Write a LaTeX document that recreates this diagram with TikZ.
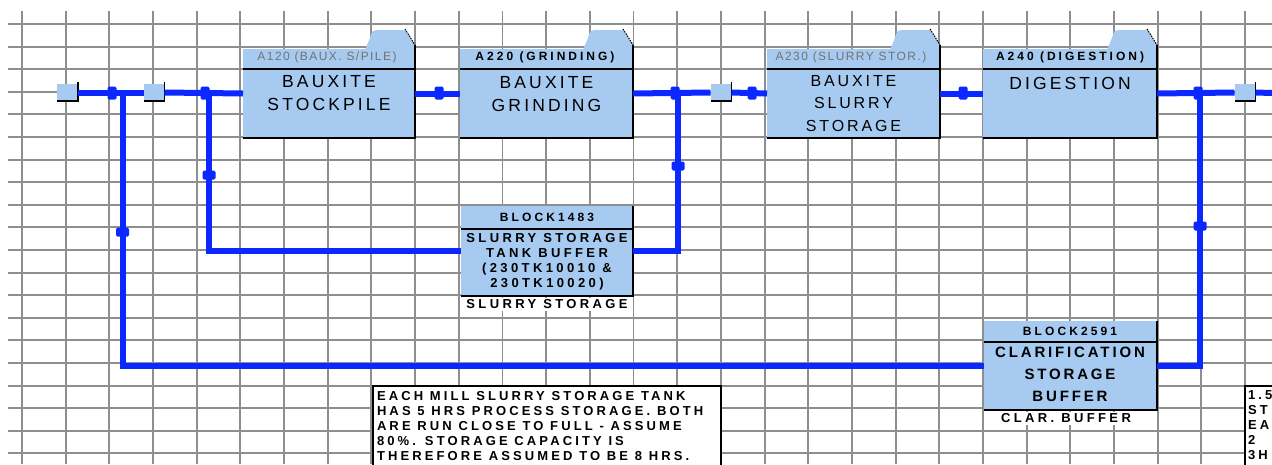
\documentclass[tikz,border=0pt]{standalone}
\usepackage{fontspec}
\setmainfont{Liberation Sans}
\newfontfamily\fBody[LetterSpace=18]{Liberation Sans}
\newfontfamily\fHdr[LetterSpace=12]{Liberation Sans}
\newfontfamily\fHdrB[LetterSpace=25]{Liberation Sans}
\newfontfamily\fBlk[LetterSpace=26]{Liberation Sans}
\newfontfamily\fClar[LetterSpace=19]{Liberation Sans}
\newfontfamily\fNote[LetterSpace=24]{Liberation Sans}
\definecolor{boxblue}{HTML}{A6CAF0}
\definecolor{flowblue}{HTML}{0A28FF}
\definecolor{gridgray}{HTML}{8E8E8E}
\tikzset{
 hmark/.pic={\fill[flowblue,rounded corners=1.5pt] (-4.5,-6.5) rectangle (4.5,6.5);},
 vmark/.pic={\fill[flowblue,rounded corners=1.5pt] (-6.5,-4.5) rectangle (6.5,4.5);}
}
\begin{document}
\begin{tikzpicture}[x=1pt,y=-1pt,
 gridline/.style={draw=gridgray,line width=1.9pt},
 flow/.style={draw=flowblue,line width=6pt,line join=miter},
 edge/.style={draw=black,line width=1.3pt},
 fillbox/.style={fill=boxblue,draw=none,inner sep=0pt,outer sep=0pt,anchor=north west},
 sqbox/.style={fill=boxblue,draw=none,inner sep=0pt,outer sep=0pt,minimum width=21pt,minimum height=17pt},
 txt/.style={inner sep=0pt,outer sep=0pt,align=center},
 hdrlbl/.style={txt,font=\fHdr\fontsize{12}{14}\selectfont,text=black!55},
 hdrbold/.style={txt,font=\fHdrB\bfseries\fontsize{12}{14}\selectfont},
 bodytxt/.style={txt,anchor=north,font=\fBody\fontsize{17.5}{23.5}\selectfont},
 slurrytxt/.style={txt,anchor=north,font=\fBody\fontsize{16}{22.5}\selectfont},
 blkhdr/.style={txt,font=\fBlk\bfseries\fontsize{12}{14}\selectfont},
 blkbody/.style={txt,anchor=north,font=\fBlk\bfseries\fontsize{13}{15}\selectfont},
 clarbody/.style={txt,anchor=north,font=\fClar\bfseries\fontsize{15}{22}\selectfont},
 blklbl/.style={txt,fill=white,inner xsep=1pt,inner ysep=2pt,font=\fBlk\bfseries\fontsize{13}{15}\selectfont},
 notebox/.style={draw=black,line width=1.2pt,fill=white,inner sep=0pt,outer sep=0pt,anchor=north west},
 notetxt/.style={inner sep=0pt,outer sep=0pt,align=left,anchor=north west,font=\fNote\bfseries\fontsize{13}{15}\selectfont}
]
\useasboundingbox (0,0) rectangle (1272,464);
\fill[white] (0,0) rectangle (1272,464);
% grid
\foreach \i in {0,...,28} \draw[gridline] ({22+43.68*\i},11) -- ({22+43.68*\i},464);
\foreach \j in {0,...,19} \draw[gridline] (8,{24+22.6*\j}) -- (1272,{24+22.6*\j});

% process boxes (top row)
\foreach \nm/\l/\r/\w in {a120/243/415/172, a220/460/633/173, a230/767/940/173, a240/983/1157/174} {
  \fill[boxblue] (\r-50,50) -- (\r-45,38) .. controls (\r-43,31) .. (\r-38,30) -- (\r-10,30) -- (\r,45) -- (\r,50) -- cycle;
  \node[fillbox,minimum width=\w pt,minimum height=89pt] (\nm) at (\l,49) {};
  \draw[black,line width=1pt,dash pattern=on 1.6pt off 1pt] (\r-10,29) -- (\r,45);
  \draw[edge] (\l,69) -- (\r,69);
  \draw[edge] (\r,45) -- (\r,138) -- (\l,138);
}
% buffer blocks
\node[fillbox,minimum width=172pt,minimum height=90pt] (b1483) at (461,206) {};
\draw[edge] (461,229) -- (633,229);
\draw[edge] (633,206) -- (633,296) -- (461,296);
\node[fillbox,minimum width=173pt,minimum height=89pt] (b2591) at (984,321) {};
\draw[edge] (984,342) -- (1157,342);
\draw[edge] (1157,321) -- (1157,410) -- (984,410);

% small connector squares
\node[sqbox] (sq1) at (67.5,92.5) {};
\node[sqbox] (sq2) at (154,92.5) {};
\node[sqbox] (sq3) at (721,92.5) {};
\node[sqbox] (sq4) at (1245,92.5) {};
\foreach \s in {sq1,sq2,sq3,sq4} \draw[edge] ([yshift=2pt]\s.north east) -- (\s.south east) -- (\s.south west);

% junctions
\coordinate (j1) at (122.5,93);
\coordinate (j2) at (209,93);
\coordinate (j3) at (678,93);
\coordinate (j4) at (1200,93);
\coordinate (exitR) at (1272,93);

% flow lines
\draw[flow] (sq1.east) -- (sq2.west);
\draw[flow] (j1) -- (j1 |- b2591.west) -- (b2591.west);
\draw[flow] (sq2.east) -- (a120.west);
\draw[flow] (j2) -- (j2 |- b1483.west) -- (b1483.west);
\draw[flow] (a120.east) -- (a220.west);
\draw[flow] (a220.east) -- (sq3.west);
\draw[flow] (b1483.east) -- (b1483.east -| j3) -- (j3);
\draw[flow] (sq3.east) -- (a230.west);
\draw[flow] (a230.east) -- (a240.west);
\draw[flow] (a240.east) -- (sq4.west);
\draw[flow] (b2591.east) -- (b2591.east -| j4) -- (j4);
\draw[flow] (sq4.east) -- (exitR);

% flow markers
\foreach \x in {112,205,439,675,752,963,1198} \pic at (\x,93) {hmark};
\pic at (122.5,232) {vmark};
\pic at (209,175) {vmark};
\pic at (678,166) {vmark};
\pic at (1200,226) {vmark};

% header labels
\node[hdrlbl] (a120h) at (327,57.5) {A120 (BAUX. S/PILE)};
\node[hdrbold] (a220h) at (545,57.5) {A220 (GRINDING)};
\node[hdrlbl] (a230h) at (851,57.5) {A230 (SLURRY STOR.)};
\node[hdrbold] (a240h) at (1070,57.5) {A240 (DIGESTION)};

% body texts
\node[bodytxt] (a120t) at (329,75) {BAUXITE\\STOCKPILE};
\node[bodytxt] (a220t) at (546.5,76) {BAUXITE\\GRINDING};
\node[slurrytxt] (a230t) at (853.5,75) {BAUXITE\\SLURRY\\STORAGE};
\node[bodytxt] (a240t) at (1070,77) {DIGESTION};

\node[blkhdr] (b1483h) at (547,217.5) {BLOCK1483};
\node[blkbody] (b1483t) at (547,233) {SLURRY STORAGE\\TANK BUFFER\\(230TK10010 \&\\230TK10020)};
\node[blklbl] (b1483l) at (547,304.5) {SLURRY STORAGE};

\node[blkhdr] (b2591h) at (1070,331.5) {BLOCK2591};
\node[clarbody] (b2591t) at (1070,347) {CLARIFICATION\\STORAGE\\BUFFER};
\node[blklbl] (b2591l) at (1066,418.5) {CLAR. BUFFER};

% notes
\node[notebox,minimum width=348pt,minimum height=100pt] (note) at (373,386) {};
\node[notetxt] (notet) at (377,391) {EACH MILL SLURRY STORAGE TANK\\HAS 5 HRS PROCESS STORAGE. BOTH\\ARE RUN CLOSE TO FULL - ASSUME\\80\%. STORAGE CAPACITY IS\\THEREFORE ASSUMED TO BE 8 HRS.};
\node[notebox,minimum width=60pt,minimum height=100pt] (note2) at (1245,386) {};
\node[notetxt] (note2t) at (1248,391) {1.5\\ST\\EA\\2\\3H};
\end{tikzpicture}
\end{document}
